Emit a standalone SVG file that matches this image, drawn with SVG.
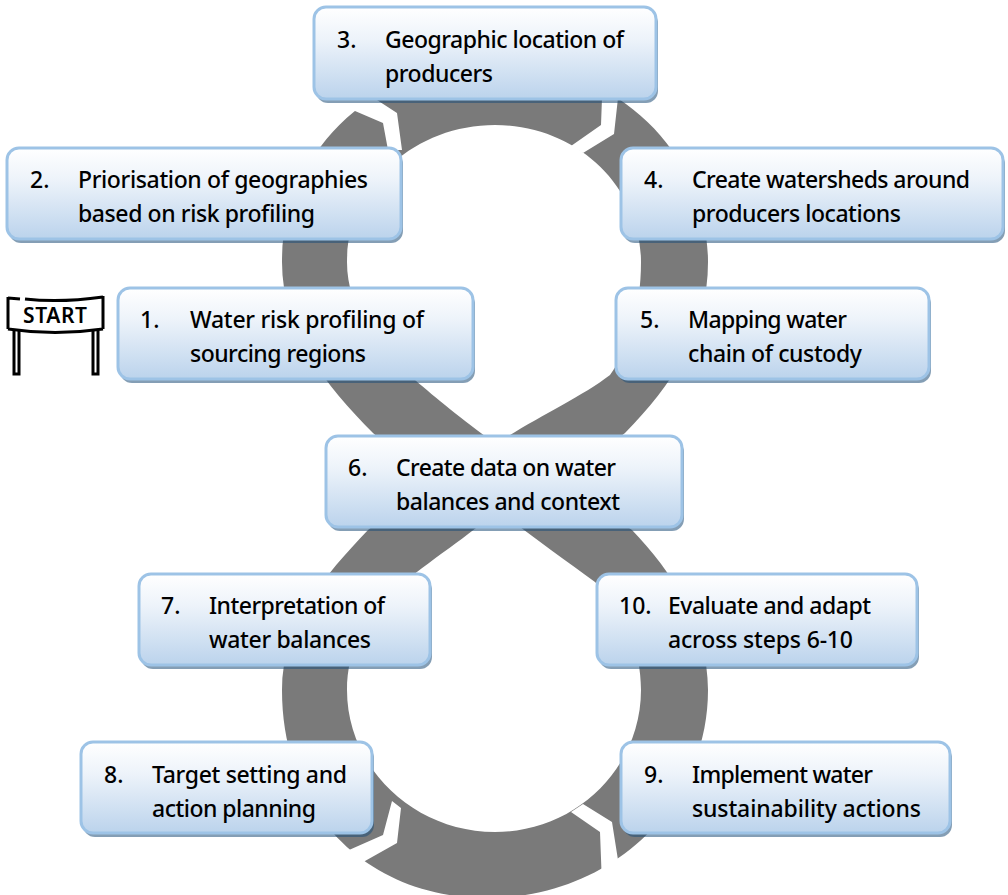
<svg xmlns="http://www.w3.org/2000/svg" width="1008" height="895" viewBox="0 0 1008 895">
<style>
.box{fill:url(#g);stroke:#9dc3e6;stroke-width:3}
.sh{fill:#1f4e79;fill-opacity:.55}
text{font-family:"Noto Sans","Open Sans",sans-serif;font-size:23px;font-weight:500;fill:#000}
.gap{fill:#fff}
.ln{fill:none;stroke:#000;stroke-width:3}
</style>
<defs>
<linearGradient id="g" x1="0" y1="0" x2="0" y2="1"><stop offset="0" stop-color="#fff"/><stop offset=".35" stop-color="#edf3fa"/><stop offset="1" stop-color="#bbd3ec"/></linearGradient>
</defs>
<rect width="1008" height="895" fill="#fff"/>
<g id="connectors">
<path fill="#7a7a7a" fill-rule="evenodd" d="M495 62C612 62 708 150 708 262C708 332 672 385 625 433L560 482L632 530C672 572 708 625 708 690C708 805 612 898 487 898C370 898 282 815 282 690C282 625 325 575 368 530L430 482L373 433C326 385 282 332 282 262C282 150 378 62 495 62ZM495 125C414 125 347 186 347 262C347 310 378 348 415 380C436 398 460 418 496 444C535 418 580 398 610 375C628 350 641 310 641 262C641 186 576 125 495 125ZM498 510C470 535 430 560 395 590C365 615 347 650 347 690C347 768 414 832 495 832C576 832 641 768 641 690C641 650 625 610 595 582C565 560 530 535 498 510Z"/>
<polygon class="gap" points="340,98 377,100 397,113 402,150 388,150 383,123 348,108"/>
<polygon class="gap" points="602,98 601,125 571,146 583,153 614,134 618,98"/>
<polygon class="gap" points="392,801 383,835 349,850 340,880 365,861 397,843 401,808"/>
<polygon class="gap" points="571,812 600,832 602,885 618,860 612,822 583,804"/>
</g>
<g id="start">
<path class="ln" d="M8 297V329M8 298L20 299M25 299Q60 303 103 297M103 296V329M8 329Q55 336 103 329"/>
<path class="ln" d="M14 331V374H19V331M93 331V374H98V331"/>
<text x="23" y="323" style="font-size:21px;font-weight:600" textLength="64">START</text>
</g>
<g id="n1"><rect class="sh" x="120" y="292" width="355" height="91" rx="12"/><rect class="box" x="118" y="288" width="355" height="91" rx="12"/><text x="140" y="328">1.</text><text x="190" y="328" textLength="234">Water risk profiling of</text><text x="190" y="362" textLength="176">sourcing regions</text></g>
<g id="n2"><rect class="sh" x="9" y="152" width="394" height="91" rx="12"/><rect class="box" x="7" y="148" width="394" height="91" rx="12"/><text x="30" y="188">2.</text><text x="78" y="188" textLength="290">Priorisation of geographies</text><text x="78" y="222" textLength="237">based on risk profiling</text></g>
<g id="n3"><rect class="sh" x="316" y="11" width="342" height="92" rx="12"/><rect class="box" x="314" y="7" width="342" height="92" rx="12"/><text x="337" y="48">3.</text><text x="385" y="48" textLength="239">Geographic location of</text><text x="385" y="82" textLength="108">producers</text></g>
<g id="n4"><rect class="sh" x="623" y="152" width="382" height="91" rx="12"/><rect class="box" x="621" y="148" width="382" height="91" rx="12"/><text x="644" y="188">4.</text><text x="692" y="188" textLength="278">Create watersheds around</text><text x="692" y="222" textLength="209">producers locations</text></g>
<g id="n5"><rect class="sh" x="618" y="292" width="313" height="91" rx="12"/><rect class="box" x="616" y="288" width="313" height="91" rx="12"/><text x="640" y="328">5.</text><text x="688" y="328" textLength="159">Mapping water</text><text x="688" y="362" textLength="174">chain of custody</text></g>
<g id="n6"><rect class="sh" x="328" y="440" width="356" height="91" rx="12"/><rect class="box" x="326" y="436" width="356" height="91" rx="12"/><text x="348" y="476">6.</text><text x="396" y="476" textLength="220">Create data on water</text><text x="396" y="510" textLength="224">balances and context</text></g>
<g id="n7"><rect class="sh" x="141" y="578" width="291" height="91" rx="12"/><rect class="box" x="139" y="574" width="291" height="91" rx="12"/><text x="161" y="614">7.</text><text x="209" y="614" textLength="176">Interpretation of</text><text x="209" y="648" textLength="162">water balances</text></g>
<g id="n8"><rect class="sh" x="83" y="746" width="291" height="91" rx="12"/><rect class="box" x="81" y="742" width="291" height="91" rx="12"/><text x="104" y="783">8.</text><text x="152" y="783" textLength="195">Target setting and</text><text x="152" y="817" textLength="164">action planning</text></g>
<g id="n9"><rect class="sh" x="623" y="746" width="329" height="91" rx="12"/><rect class="box" x="621" y="742" width="329" height="91" rx="12"/><text x="644" y="783">9.</text><text x="692" y="783" textLength="181">Implement water</text><text x="692" y="817" textLength="229">sustainability actions</text></g>
<g id="n10"><rect class="sh" x="599" y="578" width="320" height="91" rx="12"/><rect class="box" x="597" y="574" width="320" height="91" rx="12"/><text x="619" y="614">10.</text><text x="668" y="614" textLength="203">Evaluate and adapt</text><text x="668" y="648" textLength="185">across steps 6-10</text></g>
</svg>
